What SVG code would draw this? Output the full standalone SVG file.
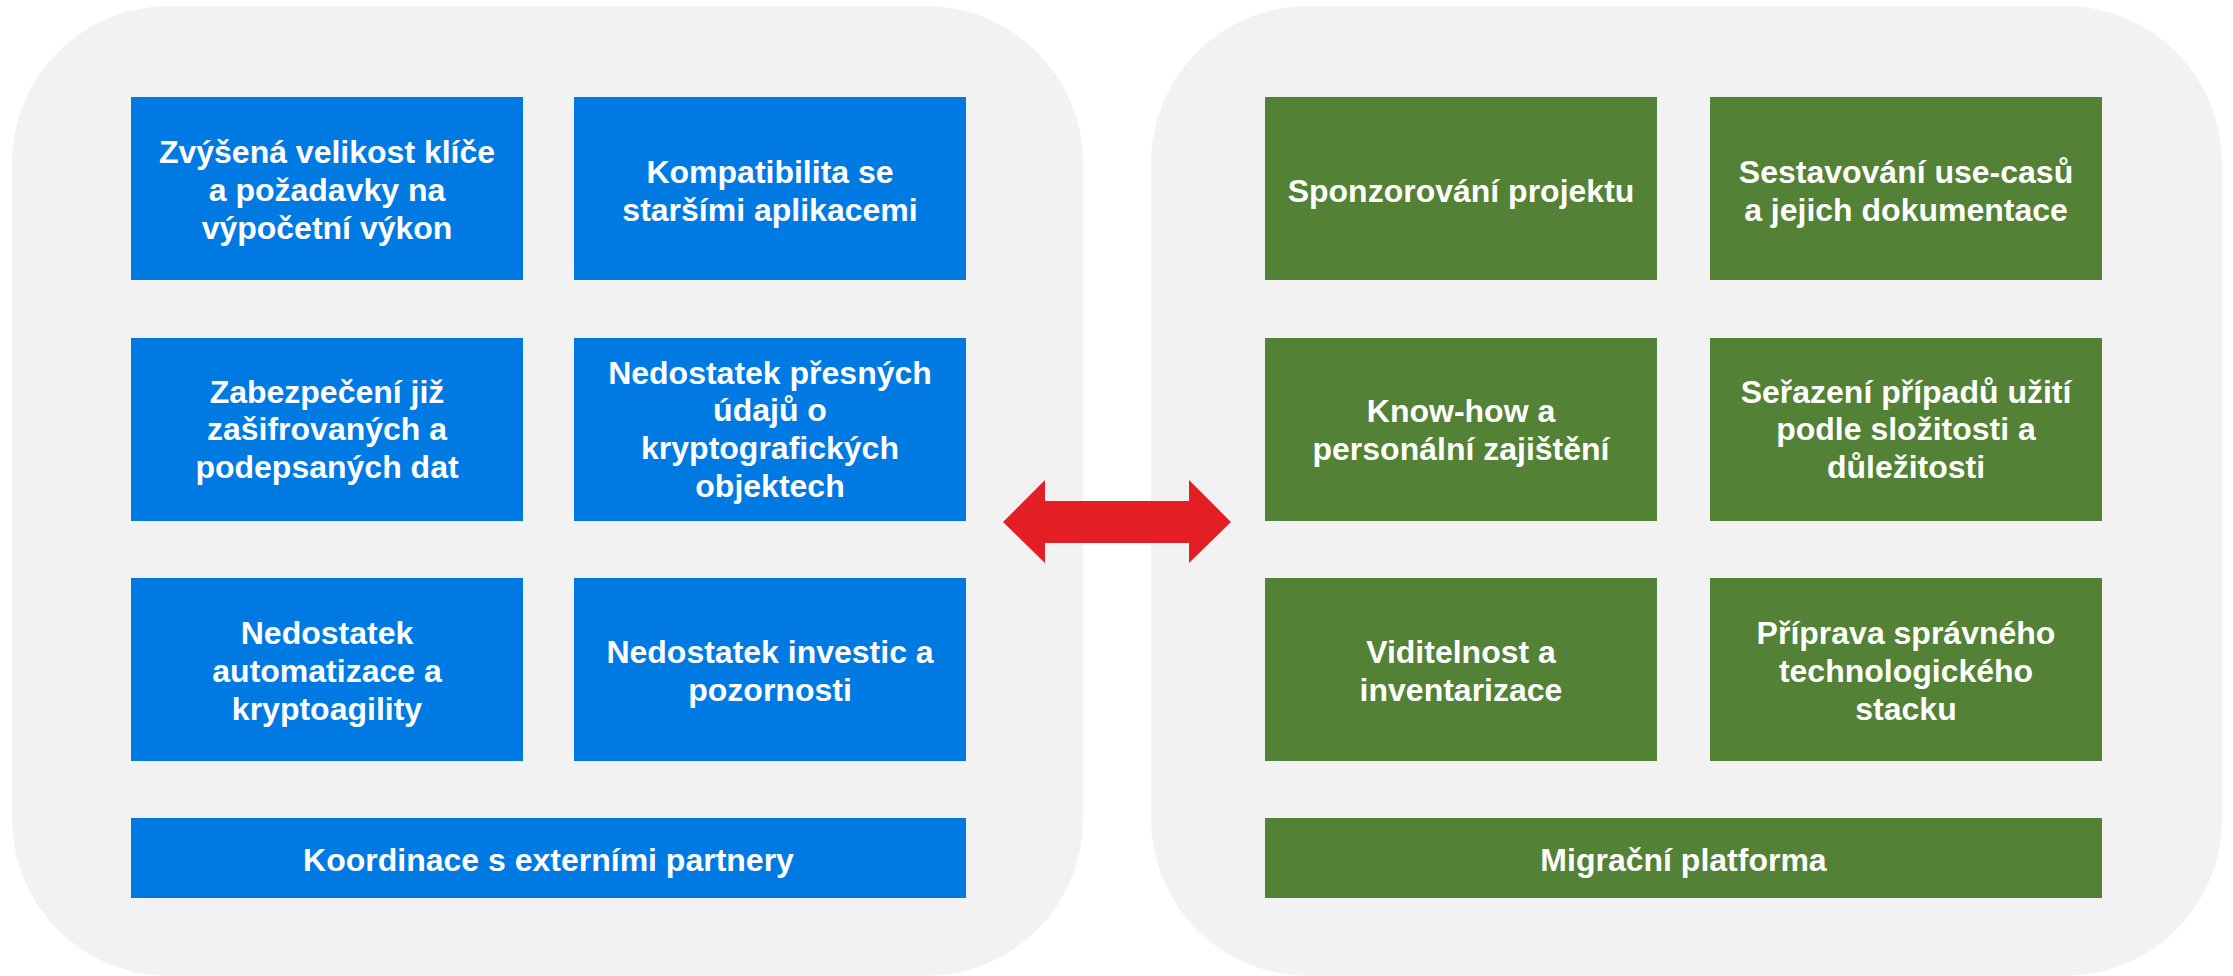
<svg xmlns="http://www.w3.org/2000/svg" width="2233" height="976" viewBox="0 0 2233 976">
<style>
.panel{fill:#F2F2F2}
.blue{fill:#007AE3}
.green{fill:#538135}
.t{font-family:"Liberation Sans",Arial,sans-serif;font-weight:bold;font-size:32px;fill:#FFFFFF;text-anchor:middle}
</style>
<rect width="2233" height="976" fill="#FFFFFF"/>
<g id="panel-left"><rect class="panel" x="12" y="6" width="1071" height="970" rx="157" ry="157"/></g>
<g id="panel-right"><rect class="panel" x="1151" y="6" width="1071" height="970" rx="157" ry="157"/></g>

<g id="n-l1"><rect class="blue" x="131" y="97" width="392" height="183"/>
<text class="t" x="327"><tspan x="327" y="163">Zvýšená velikost klíče</tspan><tspan x="327" y="201">a požadavky na</tspan><tspan x="327" y="239">výpočetní výkon</tspan></text></g>
<g id="n-l2"><rect class="blue" x="574" y="97" width="392" height="183"/>
<text class="t" x="770"><tspan x="770" y="183">Kompatibilita se</tspan><tspan x="770" y="221">staršími aplikacemi</tspan></text></g>
<g id="n-l3"><rect class="blue" x="131" y="338" width="392" height="183"/>
<text class="t" x="327"><tspan x="327" y="403">Zabezpečení již</tspan><tspan x="327" y="440">zašifrovaných a</tspan><tspan x="327" y="478">podepsaných dat</tspan></text></g>
<g id="n-l4"><rect class="blue" x="574" y="338" width="392" height="183"/>
<text class="t" x="770"><tspan x="770" y="384">Nedostatek přesných</tspan><tspan x="770" y="421">údajů o</tspan><tspan x="770" y="459">kryptografických</tspan><tspan x="770" y="497">objektech</tspan></text></g>
<g id="n-l5"><rect class="blue" x="131" y="578" width="392" height="183"/>
<text class="t" x="327"><tspan x="327" y="644">Nedostatek</tspan><tspan x="327" y="682">automatizace a</tspan><tspan x="327" y="720">kryptoagility</tspan></text></g>
<g id="n-l6"><rect class="blue" x="574" y="578" width="392" height="183"/>
<text class="t" x="770"><tspan x="770" y="663">Nedostatek investic a</tspan><tspan x="770" y="701">pozornosti</tspan></text></g>
<g id="n-l7"><rect class="blue" x="131" y="818" width="835" height="80"/>
<text class="t" x="548.5" y="871">Koordinace s externími partnery</text></g>

<g id="n-r1"><rect class="green" x="1265" y="97" width="392" height="183"/>
<text class="t" x="1461" y="202">Sponzorování projektu</text></g>
<g id="n-r2"><rect class="green" x="1710" y="97" width="392" height="183"/>
<text class="t" x="1906"><tspan x="1906" y="183">Sestavování use-casů</tspan><tspan x="1906" y="221">a jejich dokumentace</tspan></text></g>
<g id="n-r3"><rect class="green" x="1265" y="338" width="392" height="183"/>
<text class="t" x="1461"><tspan x="1461" y="422">Know-how a</tspan><tspan x="1461" y="460">personální zajištění</tspan></text></g>
<g id="n-r4"><rect class="green" x="1710" y="338" width="392" height="183"/>
<text class="t" x="1906"><tspan x="1906" y="403">Seřazení případů užití</tspan><tspan x="1906" y="440">podle složitosti a</tspan><tspan x="1906" y="478">důležitosti</tspan></text></g>
<g id="n-r5"><rect class="green" x="1265" y="578" width="392" height="183"/>
<text class="t" x="1461"><tspan x="1461" y="663">Viditelnost a</tspan><tspan x="1461" y="701">inventarizace</tspan></text></g>
<g id="n-r6"><rect class="green" x="1710" y="578" width="392" height="183"/>
<text class="t" x="1906"><tspan x="1906" y="644">Příprava správného</tspan><tspan x="1906" y="682">technologického</tspan><tspan x="1906" y="720">stacku</tspan></text></g>
<g id="n-r7"><rect class="green" x="1265" y="818" width="837" height="80"/>
<text class="t" x="1683.5" y="871">Migrační platforma</text></g>

<g id="connectors">
<polygon points="1003,522 1045,480 1045,501 1189,501 1189,480 1231,522 1189,563 1189,543 1045,543 1045,563" fill="#E31E24"/>
</g>
</svg>
